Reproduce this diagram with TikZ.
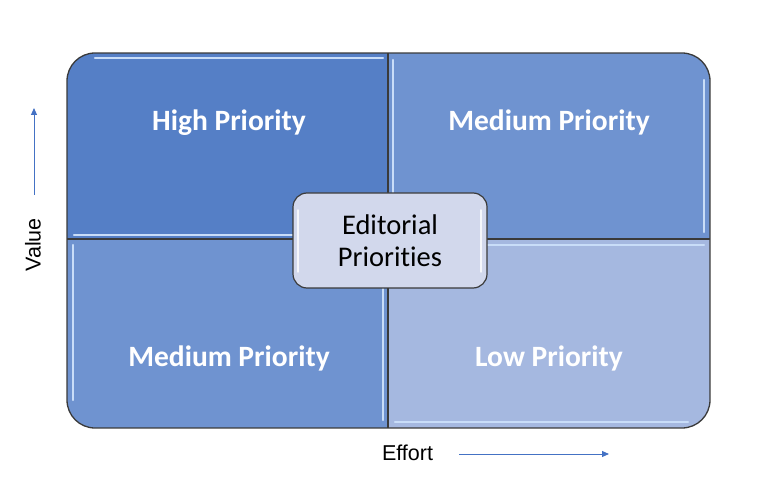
\documentclass[tikz,border=0pt]{standalone}
\usepackage{fontspec}
\usetikzlibrary{arrows.meta}
\newfontfamily\calfont[Ligatures=CommonOff]{Carlito}
\newfontfamily\arialfont{Liberation Sans}
\definecolor{qdark}{HTML}{557FC6}
\definecolor{qmid}{HTML}{6F93D0}
\definecolor{qlight}{HTML}{A5B8E0}
\definecolor{cbox}{HTML}{D2D8EC}
\definecolor{edge}{HTML}{3A3A3A}
\definecolor{hilite}{HTML}{C9DDF8}
\definecolor{arrowblue}{HTML}{4472C4}
\tikzset{
  qlabel/.style={text=white,font=\calfont\bfseries\fontsize{29.5}{32}\selectfont,anchor=base,inner sep=0pt},
  axlabel/.style={text=black,font=\arialfont\fontsize{21.5}{24}\selectfont,inner sep=0pt},
  hl/.style={hilite,line width=2.2pt,line cap=round},
  axarrow/.style={arrowblue,line width=0.9pt,-{Triangle[length=7pt,width=6pt]}},
  centerbox/.style={draw=edge,line width=1.2pt,fill=cbox,rounded corners=14pt,minimum width=194pt,minimum height=95pt,align=center,font=\calfont\fontsize{28.5}{32}\selectfont,inner sep=0pt}
}
\begin{document}
\begin{tikzpicture}[x=1pt,y=-1pt]
\useasboundingbox (0,0) rectangle (768,486);
% quadrants
\begin{scope}
\clip[rounded corners=28pt] (67,53) rectangle (710,428);
\fill[qdark] (67,53) rectangle (388,239);
\fill[qmid] (388,53) rectangle (710,239);
\fill[qmid] (67,239) rectangle (388,428);
\fill[qlight] (388,239) rectangle (710,428);
% highlights
\draw[hl] (95,58) -- (383,58);
\draw[hl] (74,235) -- (383,235);
\draw[hl] (393,60) -- (393,234);
\draw[hl] (704,80) -- (704,232);
\draw[hl] (73,245) -- (73,400);
\draw[hl] (383,245) -- (383,420);
\draw[hl] (395,245) -- (704,245);
\draw[hl] (395,422) -- (688,422);
\end{scope}
% dividers
\draw[edge,line width=1.3pt] (388,53) -- (388,428);
\draw[edge,line width=1.3pt] (67,239) -- (710,239);
\draw[edge,line width=1.3pt,rounded corners=28pt] (67,53) rectangle (710,428);
% labels
\node[qlabel] (hp) at (229,131) {High Priority};
\node[qlabel] (mp1) at (549,131) {Medium Priority};
\node[qlabel] (mp2) at (229,366) {Medium Priority};
\node[qlabel] (lp) at (549,366) {Low Priority};
% center
\node[centerbox] (ed) at (390,240.5) {Editorial\\Priorities};
\draw[white,line width=1.5pt,line cap=round,opacity=0.8] (298,210) -- (298,272);
\draw[white,line width=1.5pt,line cap=round,opacity=0.8] (481,210) -- (481,272);
% axes
\node[axlabel,rotate=90] (val) at (33,245) {Value};
\coordinate (vs) at (34,195);
\coordinate (ve) at (34,108);
\draw[axarrow] (vs) -- (ve);
\node[axlabel] (eff) at (407.5,453) {Effort};
\coordinate (es) at (459,454);
\coordinate (ee) at (609,454);
\draw[axarrow] (es) -- (ee);
\end{tikzpicture}
\end{document}
